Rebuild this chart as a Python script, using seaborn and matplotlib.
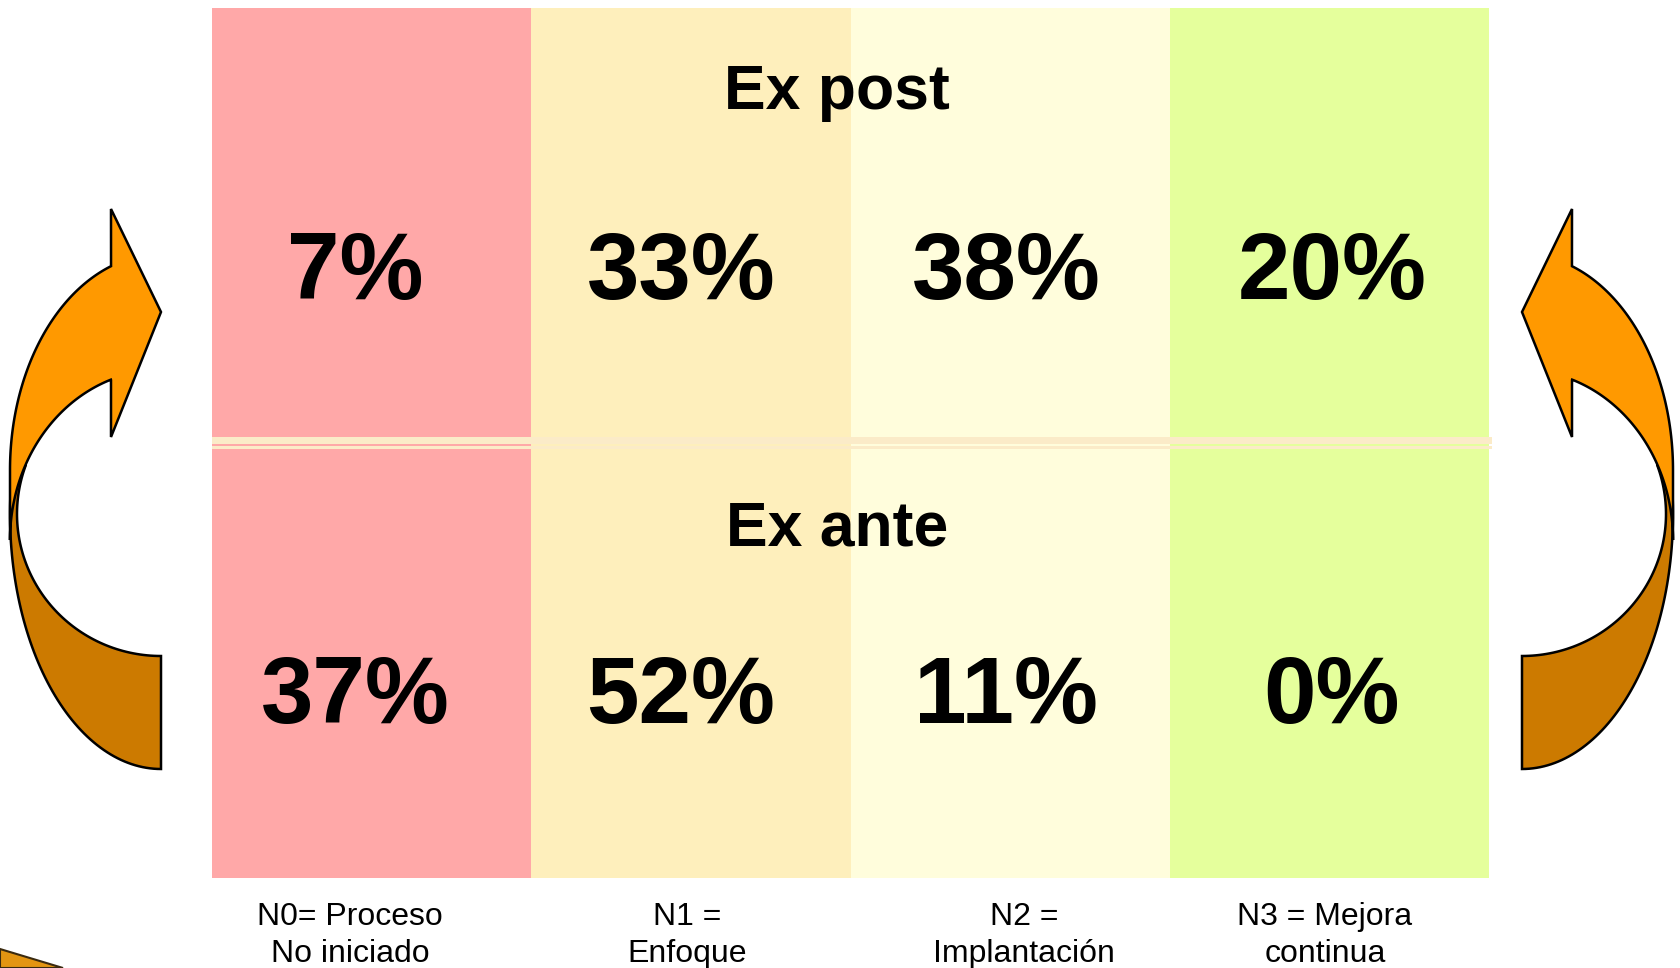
import numpy as np
import matplotlib
matplotlib.use("Agg")
import matplotlib.pyplot as plt
from matplotlib.patches import Polygon
import seaborn as sns

# data
levels = ["N0", "N1", "N2", "N3"]
level_labels = ["N0= Proceso\nNo iniciado", "N1 =\nEnfoque",
                "N2 =\nImplantación", "N3 = Mejora\ncontinua"]
ex_post = [7, 33, 38, 20]
ex_ante = [37, 52, 11, 0]
level_colors = ["#FFA8A8", "#FEEFBC", "#FFFDDC", "#E5FF9C"]

W, H = 1680, 968
sns.set_theme(style="white")
plt.rcParams['font.family'] = ['Liberation Sans', 'DejaVu Sans']
plt.rcParams['text.color'] = 'black'

fig = plt.figure(figsize=(W / 100, H / 100), dpi=100)
fig.patch.set_facecolor("white")

# coloured columns (pixel box of the panel)
L, R, T, B = 212, 1489, 8, 878
ax = fig.add_axes([L / W, 1 - B / H, (R - L) / W, (B - T) / H])
sns.barplot(x=levels, y=[1] * len(levels), hue=levels, palette=level_colors,
            width=1.0, saturation=1, linewidth=0, legend=False, ax=ax)
ax.set_xlim(-0.5, len(levels) - 0.5)
ax.set_ylim(0, 1)
ax.axis("off")


def fy(ypx):
    return (B - ypx) / (B - T)


# small offsets of the text boxes inside each column
val_dx = [-0.052, -0.031, -0.013, 0.008]
lab_dx = [-0.068, -0.012, 0.043, -0.014]

for i in range(len(levels)):
    ax.text(i + val_dx[i], fy(299), f"{ex_post[i]}%", ha="center", va="baseline",
            fontsize=68, fontweight="bold", color="black")
    ax.text(i + val_dx[i], fy(723), f"{ex_ante[i]}%", ha="center", va="baseline",
            fontsize=68, fontweight="bold", color="black")
    for k, line in enumerate(level_labels[i].split("\n")):
        ax.text(i + lab_dx[i], fy(925 + 37 * k), line, ha="center", va="baseline",
                fontsize=23, color="black", clip_on=False)

# overlay in pixel coordinates
ov = fig.add_axes([0, 0, 1, 1])
ov.set_xlim(0, W)
ov.set_ylim(H, 0)
ov.axis("off")
ov.patch.set_alpha(0)

# divider between the two rows
ov.fill_between([212, 1492], 437, 444, color="#FBEBC8", lw=0)
ov.fill_between([212, 1492], 446, 449, color="#FBEBC8", lw=0)

ov.text(837, 109, "Ex post", ha="center", va="baseline", fontsize=45,
        fontweight="bold", color="black")
ov.text(837, 546, "Ex ante", ha="center", va="baseline", fontsize=45,
        fontweight="bold", color="black")


def ell(cx, cy, rx, ry, t0, t1, n=80):
    t = np.linspace(t0, t1, n)
    return np.column_stack([cx + rx * np.cos(t), cy + ry * np.sin(t)])


def curved_arrow(mirror=False):
    cx = 161
    # back (dark) band, its upper end is hidden under the front band
    back = np.vstack([ell(cx, 514, 151, 255, np.pi + 0.35, np.pi / 2),
                      ell(cx, 514, 144, 142, np.pi / 2, np.pi + 0.35)])
    t_out = np.arctan2(-204 / 216, -50 / 151) + 2 * np.pi
    t_in = np.arctan2(-160 / 170, -50 / 151) + 2 * np.pi
    front = np.vstack([ell(cx, 470, 151, 216, np.pi, t_out),
                       [[111, 209], [161, 312], [111, 437], [111, 380]],
                       ell(cx, 540, 151, 170, t_in, np.pi)])
    if mirror:
        back[:, 0] = 1683 - back[:, 0]
        front[:, 0] = 1683 - front[:, 0]
    ov.add_patch(Polygon(back, closed=True, facecolor="#CC7A00", edgecolor="black", lw=1.8))
    ov.add_patch(Polygon(front, closed=True, facecolor="#FF9900", edgecolor="black", lw=1.8))


curved_arrow()
curved_arrow(mirror=True)

# piece of another shape cut off at the bottom-left corner
ov.add_patch(Polygon([[0, 949], [63, 968], [0, 968]], closed=True,
                     facecolor="#E39512", edgecolor="#3a2a10", lw=1.5))

fig.savefig("out.png", dpi=100)
